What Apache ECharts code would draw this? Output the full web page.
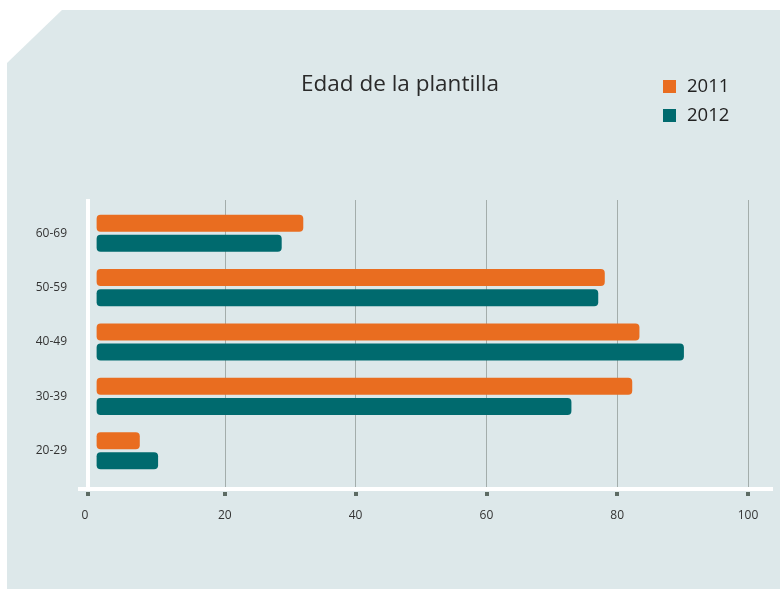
<!DOCTYPE html>
<html>
<head>
<meta charset="utf-8">
<script src="https://cdn.jsdelivr.net/npm/echarts@6/dist/echarts.min.js"></script>
<style>
html,body{margin:0;padding:0;background:#ffffff;}
#chart{width:780px;height:589px;}
</style>
</head>
<body>
<div id="chart"></div>
<script>
// Data
const categories = ['60-69', '50-59', '40-49', '30-39', '20-29'];
const values2011 = [32.0, 78.1, 83.4, 82.3, 7.0];
const values2012 = [28.7, 77.1, 90.2, 73.0, 9.8];
const seriesNames = ['2011', '2012'];
const xTicks = [0, 20, 40, 60, 80, 100];

const barStart = 0.4; // small visual inset of bars from the axis
const orange = '#e96d20';
const teal = '#006a6e';
const bg = '#dde8ea';
const labelFont = {fontFamily: 'Open Sans', fontSize: 12, color: '#333'};

const chart = echarts.init(document.getElementById('chart'), null, {renderer: 'canvas'});

function baseSeries(name, stack) {
  return {
    name: name, type: 'bar', stack: stack, xAxisIndex: 1, yAxisIndex: 1,
    barWidth: 17, barGap: '18%',
    itemStyle: {color: 'rgba(0,0,0,0)'},
    silent: true,
    data: categories.map(() => barStart)
  };
}
function valueSeries(name, stack, vals, color) {
  return {
    name: name, type: 'bar', stack: stack, xAxisIndex: 1, yAxisIndex: 1,
    barWidth: 17, barGap: '18%',
    itemStyle: {color: color, borderRadius: 4},
    data: vals.map(v => v - barStart)
  };
}

const tickStyle = {show: true, length: 4, lineStyle: {color: '#5d6b63', width: 4}};

const option = {
  animation: false,
  backgroundColor: '#ffffff',
  graphic: [
    {type: 'polygon', z: -10, shape: {points: [[7, 63], [62, 10], [780, 10], [780, 589], [7, 589]]}, style: {fill: bg}},
    {type: 'rect', z: 10, shape: {x: 78, y: 487, width: 695, height: 4}, style: {fill: '#ffffff'}},
    {type: 'rect', z: 10, shape: {x: 86, y: 199, width: 4, height: 290}, style: {fill: '#ffffff'}}
  ],
  title: {
    text: 'Edad de la plantilla',
    left: 296, top: 68,
    textStyle: {fontFamily: 'Open Sans', fontSize: 22.5, fontWeight: 'normal', color: '#2a2a2a'}
  },
  legend: {
    orient: 'vertical', left: 658, top: 72,
    data: seriesNames,
    icon: 'rect', itemWidth: 13, itemHeight: 13, itemGap: 10,
    textStyle: {fontFamily: 'Open Sans', fontSize: 18.5, color: '#222', lineHeight: 19, padding: [0, 0, 0, 6]}
  },
  grid: [
    {left: 94, right: 32, top: 200, bottom: 101},
    {left: 94, right: 32, top: 206, height: 272},
    {left: 88, width: 654, top: 200, bottom: 101}
  ],
  xAxis: [
    {
      gridIndex: 0, type: 'value', min: xTicks[0], max: xTicks[xTicks.length - 1], interval: 20,
      offset: 4,
      axisLine: {show: false},
      axisTick: Object.assign({customValues: xTicks.slice(1)}, tickStyle),
      axisLabel: Object.assign({margin: 18, customValues: xTicks.slice(1)}, labelFont),
      splitLine: {show: true, lineStyle: {color: '#a3adab', width: 1}}
    },
    {
      gridIndex: 1, type: 'value', min: xTicks[0], max: xTicks[xTicks.length - 1], show: false
    },
    {
      gridIndex: 2, type: 'value', min: xTicks[0], max: xTicks[xTicks.length - 1], interval: 20,
      offset: 4,
      axisLine: {show: false},
      axisTick: Object.assign({customValues: [xTicks[0]]}, tickStyle),
      axisLabel: Object.assign({margin: 18, customValues: [xTicks[0]], padding: [0, 6, 0, 0]}, labelFont),
      splitLine: {show: false}
    }
  ],
  yAxis: [
    {
      gridIndex: 0, type: 'category', data: categories, show: false
    },
    {
      gridIndex: 1, type: 'category', data: categories, inverse: true,
      axisLine: {show: false}, axisTick: {show: false},
      axisLabel: Object.assign({margin: 27}, labelFont)
    },
    {
      gridIndex: 2, type: 'category', data: categories, show: false
    }
  ],
  series: [
    baseSeries('b2011', 's1'),
    valueSeries(seriesNames[0], 's1', values2011, orange),
    baseSeries('b2012', 's2'),
    valueSeries(seriesNames[1], 's2', values2012, teal)
  ]
};
chart.setOption(option);
</script>
</body>
</html>
